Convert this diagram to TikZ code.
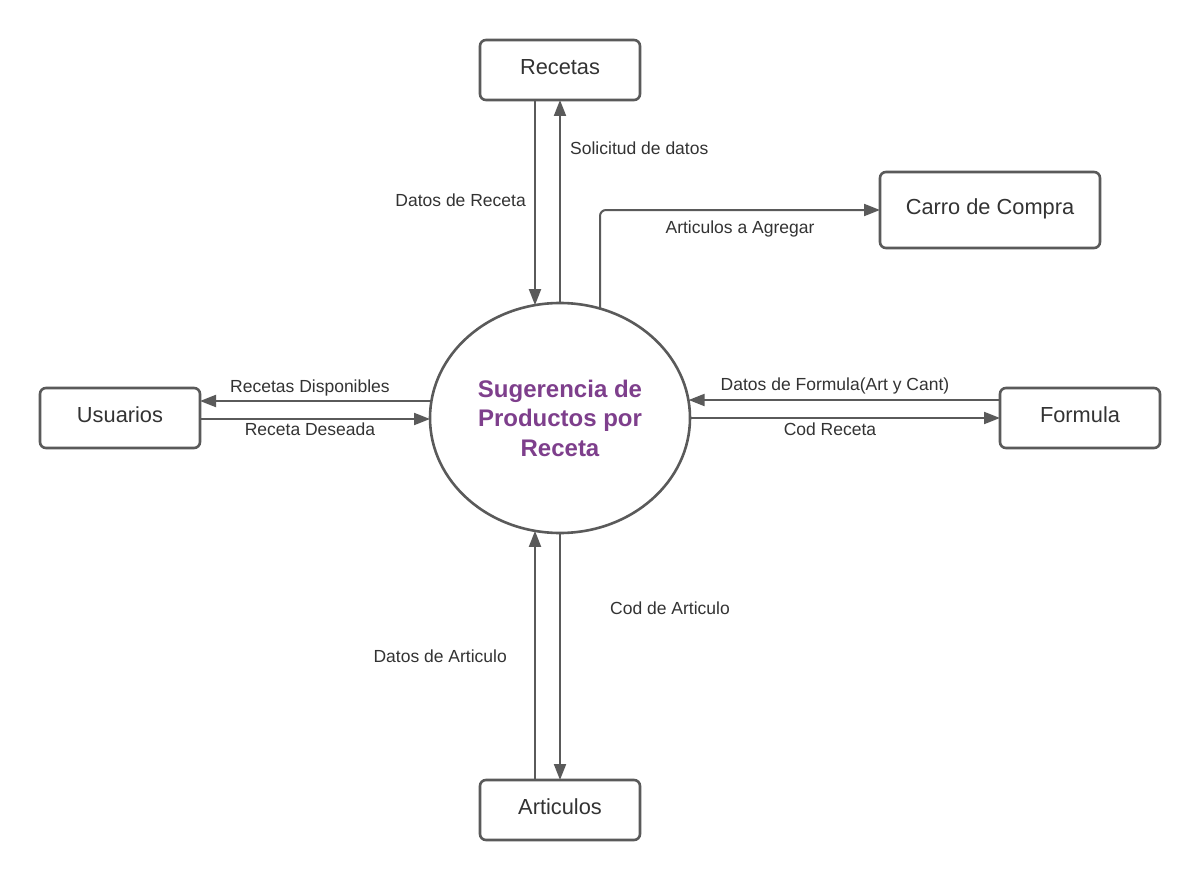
\documentclass[tikz,border=0pt]{standalone}
\usepackage{fontspec}
\setmainfont{Liberation Sans}
\usetikzlibrary{arrows.meta,calc,shapes.geometric}
\definecolor{linegray}{HTML}{5A5A5A}
\definecolor{txtgray}{HTML}{333333}
\definecolor{purp}{HTML}{7E3F8C}
\begin{document}
\begin{tikzpicture}[x=1pt,y=-1pt,
  ent/.style={draw=linegray,line width=2.6pt,rounded corners=6pt,minimum width=160pt,minimum height=60pt,inner sep=0pt,outer sep=0pt,text=txtgray,text height=16pt,text depth=7pt,font=\fontsize{21.8}{24}\selectfont},
  proc/.style={draw=linegray,line width=2.6pt,ellipse,minimum width=260pt,minimum height=230pt,inner sep=0pt,outer sep=0pt,text=purp,align=center,font=\fontsize{24}{29.5}\selectfont\bfseries},
  flow/.style={draw=linegray,line width=2pt,-{Triangle[length=16pt,width=12pt]}},
  lbl/.style={text=txtgray,inner sep=0pt,font=\fontsize{17.5}{20}\selectfont}]
\useasboundingbox (0,0) rectangle (1200,880);
\fill[white] (0,0) rectangle (1200,880);
\node[proc] (ell) at (560,418) {Sugerencia de\\Productos por\\Receta};
\node[ent] (rec) at (560,70) {Recetas};
\node[ent,minimum width=220pt,minimum height=76pt] (car) at (990,210) {Carro de Compra};
\node[ent] (usu) at (120,418) {Usuarios};
\node[ent] (for) at (1080,418) {Formula};
\node[ent] (art) at (560,810) {Articulos};
% points on the ellipse border
\coordinate (eTl) at ($(ell.center)+(-25,-112.9)$);
\coordinate (eTr) at ($(ell.center)+(0,-115)$);
\coordinate (eTa) at ($(ell.center)+(40,-109.4)$);
\coordinate (eL1) at ($(ell.center)+(-128.6,-17)$);
\coordinate (eL2) at ($(ell.center)+(-130,1)$);
\coordinate (eR1) at ($(ell.center)+(128.6,-18)$);
\coordinate (eR2) at ($(ell.center)+(130,0)$);
\coordinate (eBl) at ($(ell.center)+(-25,112.9)$);
\coordinate (eBr) at ($(ell.center)+(0,115)$);
\coordinate (bend) at (600,210);
% connectors
\draw[flow] ([xshift=-25pt]rec.south) -- (eTl);
\draw[flow] (eTr) -- (rec.south);
\draw[flow,rounded corners=6pt] (eTa) -- (bend) -- (car.west);
\draw[flow] (eL1) -- ([yshift=17pt]usu.east);
\draw[flow] ([yshift=-1pt]usu.east) -- (eL2);
\draw[flow] ([yshift=18pt]for.west) -- (eR1);
\draw[flow] (eR2) -- (for.west);
\draw[flow] ([xshift=-25pt]art.north) -- (eBl);
\draw[flow] (eBr) -- (art.north);
% labels
\node[lbl,anchor=east] (l1) at (526,200) {Datos de Receta};
\node[lbl,anchor=west] (l2) at (570,148) {Solicitud de datos};
\node[lbl] (l3) at (740,229) {Articulos a Agregar};
\node[lbl] (l4) at (310,388) {Recetas Disponibles};
\node[lbl] (l5) at (310,429) {Receta Deseada};
\node[lbl] (l6) at (835,386) {Datos de Formula(Art y Cant)};
\node[lbl] (l7) at (830,429) {Cod Receta};
\node[lbl,anchor=east] (l8) at (507,656) {Datos de Articulo};
\node[lbl,anchor=west] (l9) at (610,608) {Cod de Articulo};
\end{tikzpicture}
\end{document}
